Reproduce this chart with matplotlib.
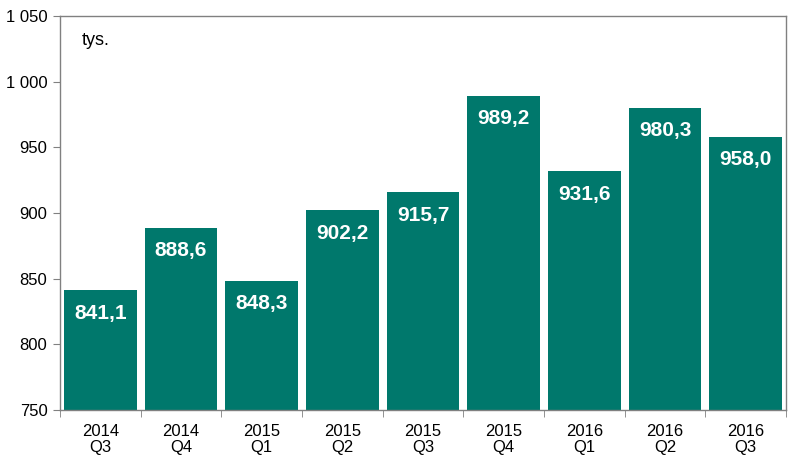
import matplotlib.pyplot as plt
import numpy as np

plt.rcParams['font.family'] = ['Liberation Sans', 'DejaVu Sans']

years = ["2014", "2014", "2015", "2015", "2015", "2015", "2016", "2016", "2016"]
quarters = ["Q3", "Q4", "Q1", "Q2", "Q3", "Q4", "Q1", "Q2", "Q3"]
values = [841.1, 888.6, 848.3, 902.2, 915.7, 989.2, 931.6, 980.3, 958.0]
yticks = [750, 800, 850, 900, 950, 1000, 1050]

color = '#00786C'
edge = '#808080'

fig = plt.figure(figsize=(8.07, 4.62), dpi=100)
ax = fig.add_axes([60/807, 1 - 410/462, 726/807, 394/462])

x = np.arange(len(values))
ax.bar(x, [v - 750 for v in values], bottom=750, width=0.9, color=color)

for xi, v in zip(x, values):
    ax.text(xi, v - 17.5, f"{v:.1f}".replace('.', ','), ha='center', va='center',
            color='white', fontsize=15, fontweight='bold')

ax.set_xlim(-0.5, len(values) - 0.5)
ax.set_ylim(750, 1050)
ax.set_yticks(yticks)
ax.set_yticklabels([f"{t:,}".replace(',', ' ') for t in yticks], fontsize=12)
ax.set_xticks(x)
ax.set_xticklabels([f"{y}\n{q}" for y, q in zip(years, quarters)], fontsize=12,
                   linespacing=1.1)
ax.tick_params(axis='x', length=0, pad=10)
ax.set_xticks(np.arange(-0.5, len(values)), minor=True)
ax.tick_params(axis='x', which='minor', length=5, color=edge, direction='out')
ax.tick_params(axis='y', length=5, color=edge, direction='out', pad=4)

for s in ax.spines.values():
    s.set_color(edge)
    s.set_linewidth(1)

ax.text(0.030, 0.939, "tys.", transform=ax.transAxes, fontsize=13, va='center')

fig.savefig("out.png", dpi=100)
